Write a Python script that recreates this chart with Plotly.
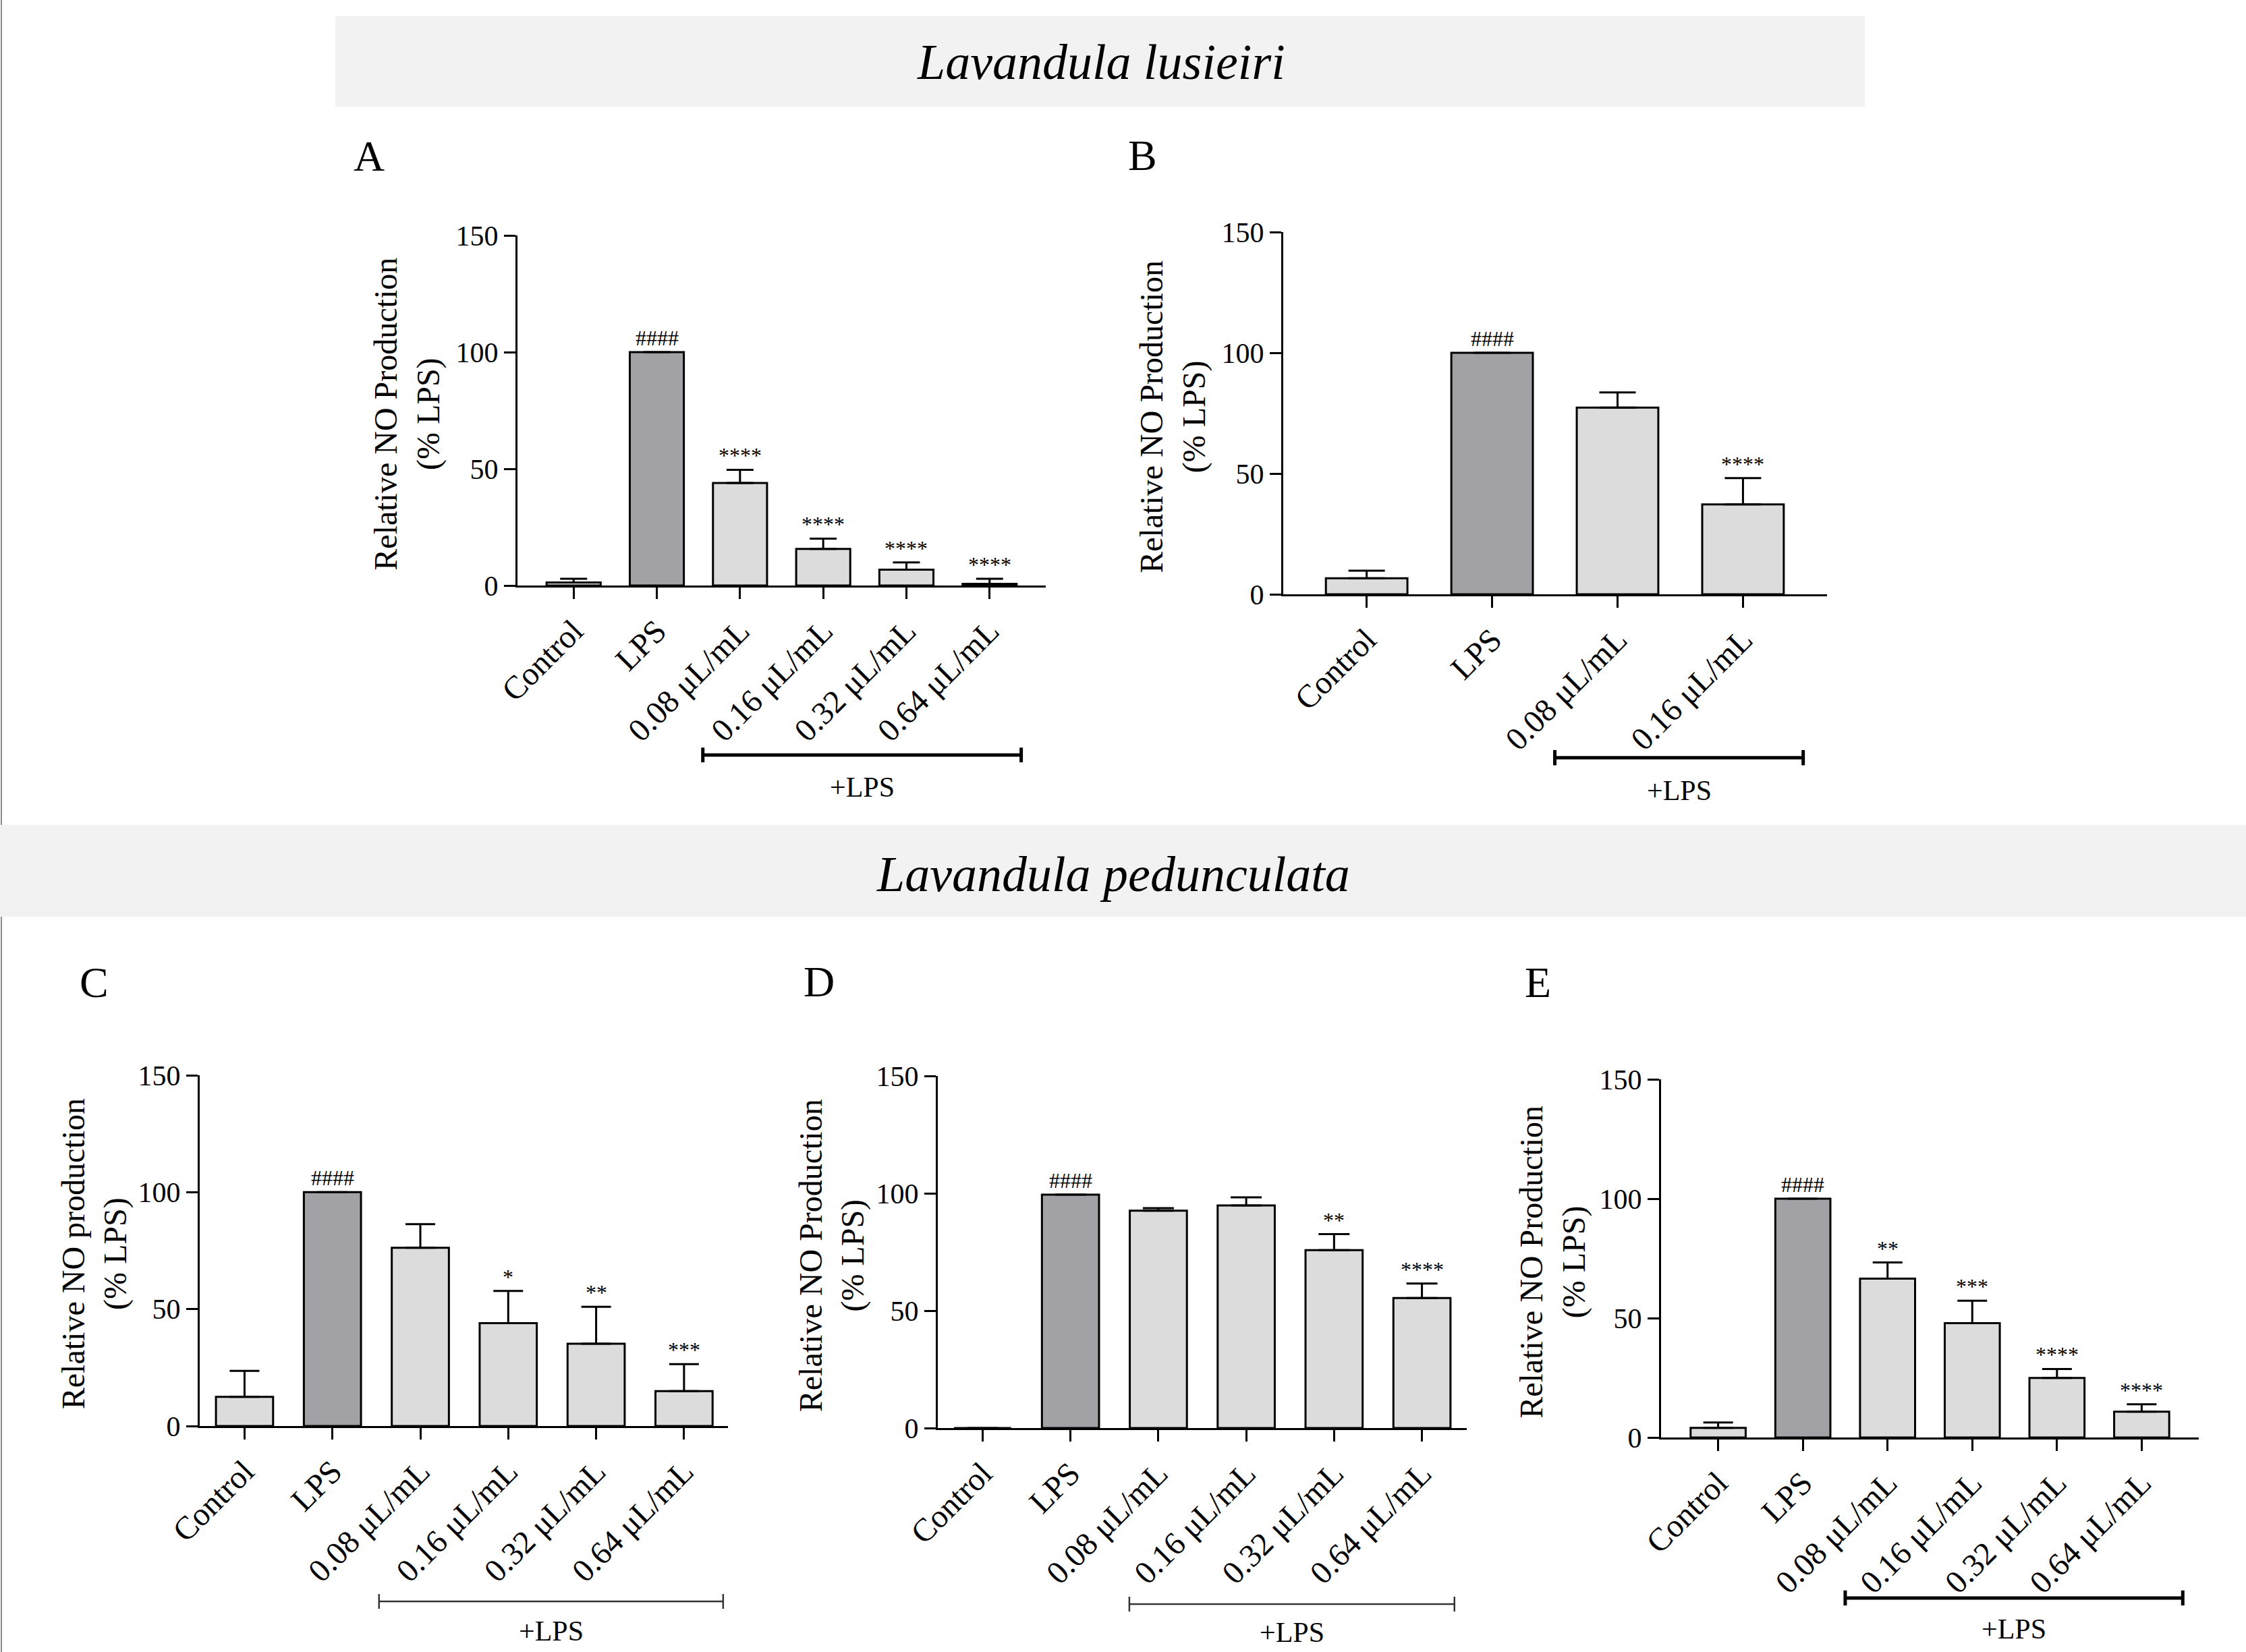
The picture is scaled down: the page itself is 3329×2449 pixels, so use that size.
import plotly.graph_objects as go

W, H = 3329, 2449
FONT = "Liberation Serif"

# ---- data ----
cats6 = ["Control", "LPS", "0.08 μL/mL", "0.16 μL/mL", "0.32 μL/mL", "0.64 μL/mL"]
cats4 = ["Control", "LPS", "0.08 μL/mL", "0.16 μL/mL"]

# A - Lavandula lusieiri
a_mean = [1.3, 100, 43.9, 15.7, 6.8, 0.7]
a_err = [1.6, 0, 5.7, 4.4, 3.1, 2.2]
a_sig = ["", "####", "****", "****", "****", "****"]

# B - Lavandula lusieiri
b_mean = [6.6, 100, 77.3, 37.2]
b_err = [3.2, 0, 6.3, 10.9]
b_sig = ["", "####", "", "****"]

# C - Lavandula pedunculata
c_mean = [12.5, 100, 76.2, 44.0, 35.2, 14.9]
c_err = [11.1, 0, 10.1, 13.8, 15.8, 11.6]
c_sig = ["", "####", "", "*", "**", "***"]

# D - Lavandula pedunculata
d_mean = [0, 99.4, 92.6, 94.8, 75.8, 55.4]
d_err = [None, 0, 1.1, 3.5, 6.8, 6.2]
d_sig = ["", "####", "", "", "**", "****"]

# E - Lavandula pedunculata
e_mean = [4.0, 100, 66.5, 47.9, 24.9, 10.8]
e_err = [2.3, 0, 6.8, 9.4, 3.8, 3.1]
e_sig = ["", "####", "**", "***", "****", "****"]

y_ticks = [0, 50, 100, 150]

LIGHT = "#dcdcdc"
DARK = "#a2a2a6"

# panel layout, in pixels of the full picture
panels = [
    dict(letter="A", cats=cats6, mean=a_mean, err=a_err, sig=a_sig,
         px=(767, 1550), py=(349, 868), xr=(-0.675, 5.675), cap=20,
         br=(1.553, 5.38), br_y=-0.484, lps_y=-0.576, br_w=5, br_c="black",
         ytitle="Relative NO Production<br>(% LPS)", tx=603, let=(547, 231)),
    dict(letter="B", cats=cats4, mean=b_mean, err=b_err, sig=b_sig,
         px=(1902, 2708), py=(344, 881), xr=(-0.665, 3.67), cap=27,
         br=(1.50, 3.48), br_y=-0.451, lps_y=-0.542, br_w=5, br_c="black",
         ytitle="Relative NO Production<br>(% LPS)", tx=1738, let=(1693, 230)),
    dict(letter="C", cats=cats6, mean=c_mean, err=c_err, sig=c_sig,
         px=(296, 1079), py=(1594, 2114), xr=(-0.51, 5.5), cap=22,
         br=(1.53, 5.445), br_y=-0.5, lps_y=-0.585, br_w=2.5, br_c="#333333",
         ytitle="Relative NO production<br>(% LPS)", tx=140, let=(139, 1456)),
    dict(letter="D", cats=cats6, mean=d_mean, err=d_err, sig=d_sig,
         px=(1390, 2174), py=(1595, 2117), xr=(-0.51, 5.51), cap=23,
         br=(1.67, 5.37), br_y=-0.5, lps_y=-0.58, br_w=2.5, br_c="#333333",
         ytitle="Relative NO Production<br>(% LPS)", tx=1233, let=(1214, 1455)),
    dict(letter="E", cats=cats6, mean=e_mean, err=e_err, sig=e_sig,
         px=(2462, 3259), py=(1600, 2131), xr=(-0.674, 5.674), cap=22,
         br=(1.50, 5.485), br_y=-0.448, lps_y=-0.535, br_w=5, br_c="black",
         ytitle="Relative NO Production<br>(% LPS)", tx=2301, let=(2279, 1456)),
]


def fx(px):
    return px / W


def fy(py):
    return 1 - py / H


def note(text, x, y, xref="paper", yref="paper", size=48, **kw):
    return dict(text=text, x=x, y=y, xref=xref, yref=yref, showarrow=False,
                xanchor=kw.pop("xanchor", "center"), yanchor=kw.pop("yanchor", "middle"),
                font=dict(family=FONT, size=size, color="black"), **kw)


fig = go.Figure()
shapes = []
annotations = []

# banners
shapes.append(dict(type="rect", xref="paper", yref="paper", layer="below",
                   x0=fx(497), x1=fx(2764), y0=fy(158), y1=fy(24),
                   fillcolor="#f2f2f2", line_width=0))
shapes.append(dict(type="rect", xref="paper", yref="paper", layer="below",
                   x0=0, x1=1, y0=fy(1359), y1=fy(1223),
                   fillcolor="#f2f2f2", line_width=0))
for y0, y1 in [(0, 1223), (1359, H)]:
    shapes.append(dict(type="line", xref="paper", yref="paper",
                       x0=fx(2), x1=fx(2), y0=fy(y1), y1=fy(y0),
                       line=dict(color="#8a8a8a", width=2)))

annotations.append(note("<i>Lavandula lusieiri</i>", fx(1632), fy(92), size=74))
annotations.append(note("<i>Lavandula pedunculata</i>", fx(1650), fy(1296), size=74))

for i, p in enumerate(panels, start=1):
    xa = "x" if i == 1 else f"x{i}"
    ya = "y" if i == 1 else f"y{i}"
    n = len(p["cats"])
    colors = [DARK if c == "LPS" else LIGHT for c in p["cats"]]
    fig.add_trace(go.Bar(
        x=p["cats"], y=p["mean"], width=0.65,
        marker=dict(color=colors, line=dict(color="black", width=3)),
        error_y=dict(type="data", array=p["err"], arrayminus=[0] * n, symmetric=False,
                     color="black", thickness=3, width=p["cap"]),
        xaxis=xa, yaxis=ya, showlegend=False, hoverinfo="x+y",
    ))

    axis_common = dict(showline=True, linewidth=3, linecolor="black", ticks="outside",
                       ticklen=17, tickwidth=3, tickcolor="black", showgrid=False,
                       zeroline=False, automargin=False)
    fig.layout[f"xaxis{i if i > 1 else ''}"] = dict(
        domain=[fx(p["px"][0]), fx(p["px"][1])], anchor=ya, type="category",
        range=list(p["xr"]), tickangle=-45,
        tickfont=dict(family=FONT, size=48, color="black"), **axis_common)
    fig.layout[f"yaxis{i if i > 1 else ''}"] = dict(
        domain=[fy(p["py"][1]), fy(p["py"][0])], anchor=xa, range=[0, 150],
        tickvals=y_ticks, tickfont=dict(family=FONT, size=42, color="black"),
        **axis_common)

    # significance marks above the error caps
    for c, m, e, s in zip(p["cats"], p["mean"], p["err"], p["sig"]):
        if s:
            annotations.append(note(s, c, m + (e or 0), xref=xa, yref=ya, size=32,
                                    yanchor="bottom", yshift=1))

    # y axis title
    annotations.append(note(p["ytitle"], fx(p["tx"]), 0.49, yref=f"{ya} domain",
                            textangle=-90))

    # panel letter
    annotations.append(note(p["letter"], fx(p["let"][0]), fy(p["let"][1]), size=64))

    # +LPS bracket
    b0, b1 = p["br"]
    by = p["br_y"]
    line = dict(color=p["br_c"], width=p["br_w"])
    shapes.append(dict(type="line", xref=xa, yref=f"{ya} domain",
                       x0=b0, x1=b1, y0=by, y1=by, line=line))
    for bx in (b0, b1):
        shapes.append(dict(type="line", xref=xa, yref=f"{ya} domain",
                           x0=bx, x1=bx, y0=by - 0.021, y1=by + 0.021, line=line))
    annotations.append(note("+LPS", (b0 + b1) / 2, p["lps_y"], xref=xa,
                            yref=f"{ya} domain", size=42))

fig.update_layout(
    width=W, height=H,
    margin=dict(l=0, r=0, t=0, b=0, autoexpand=False),
    paper_bgcolor="white", plot_bgcolor="white",
    shapes=shapes, annotations=annotations,
    bargap=0.35,
)

fig.write_html("out.html", config={"displayModeBar": False},
               post_script="document.body.style.margin='0';")
